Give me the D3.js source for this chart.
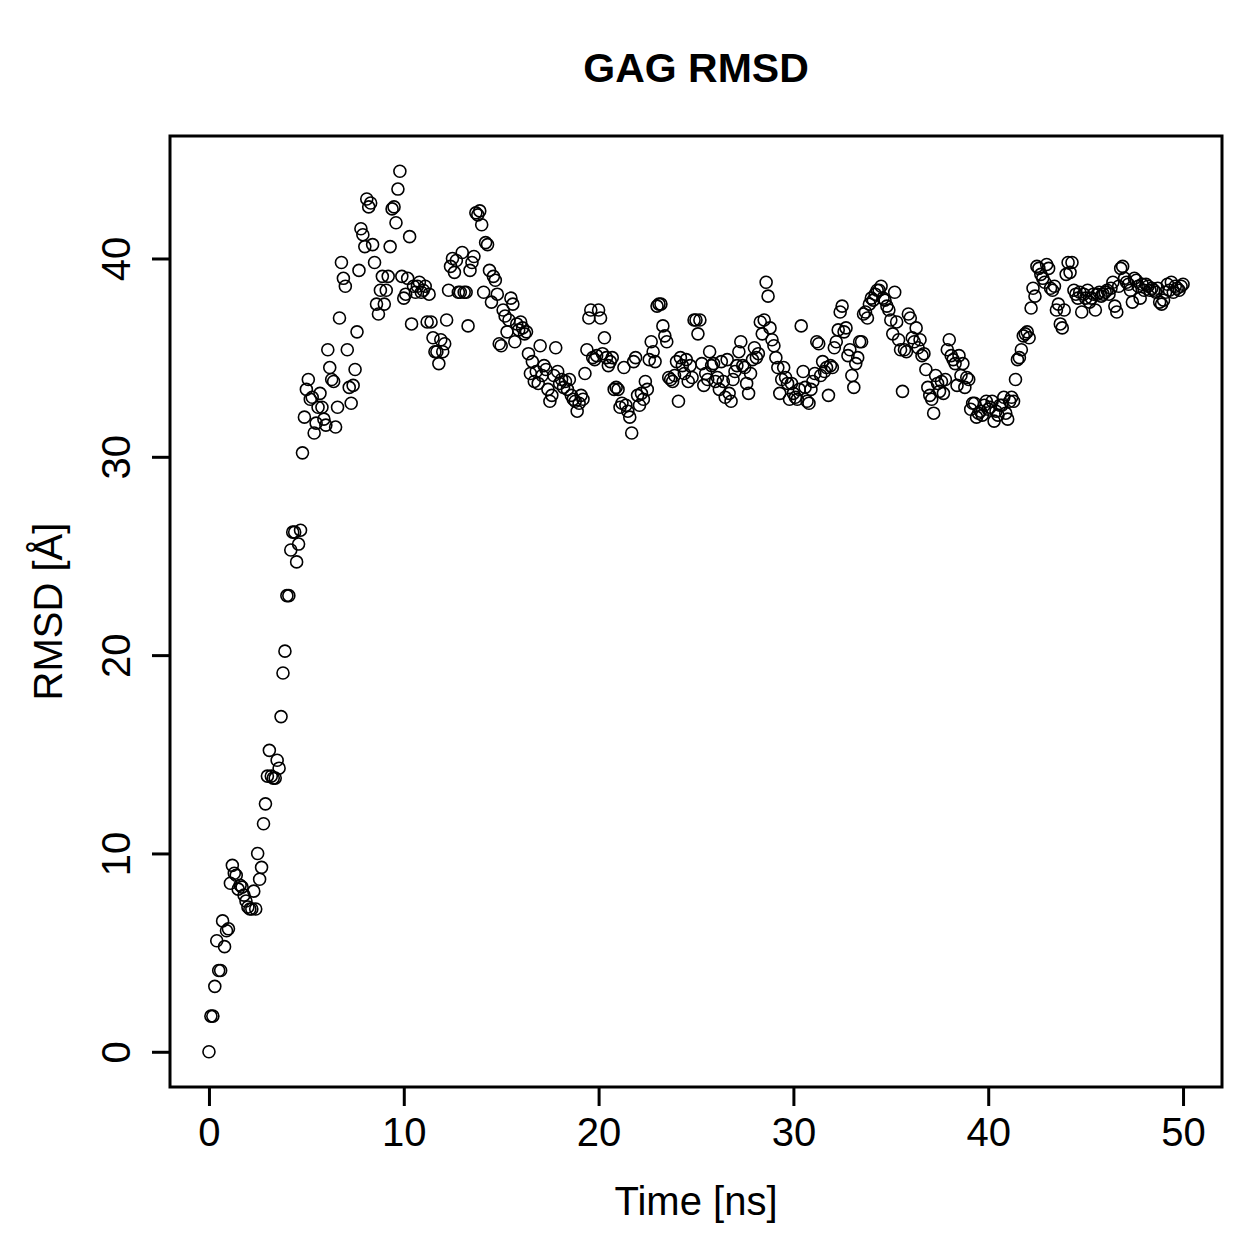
<!DOCTYPE html>
<head>
  <meta charset="utf-8">
  <script src="https://cdnjs.cloudflare.com/ajax/libs/d3/7.8.5/d3.min.js"></script>
  <style>
    body { margin:0; background:#fff; }
    #vis { width:1259px; height:1259px; }
    text { font-family:"Liberation Sans", Arial, Helvetica, sans-serif; fill:#000; }
  </style>
</head>

<body>
  <div id="vis"></div>

  <script>
    // RMSD samples, one every 0.1 ns from 0 to 50 ns
    var timeStep = 0.1;
    var rmsd = [
      0.0, 1.8, 1.8, 3.3, 5.6, 4.1, 4.1, 6.6, 5.3, 6.1,
      6.2, 8.5, 9.4, 9.0, 8.9, 8.2, 8.4, 8.3, 7.9, 7.6,
      7.3, 7.2, 7.2, 8.1, 7.2, 10.0, 8.7, 9.3, 11.5, 12.5,
      13.9, 15.2, 13.9, 13.8, 13.8, 14.7, 14.3, 16.9, 19.1, 20.2,
      23.0, 23.0, 25.3, 26.2, 26.2, 24.7, 25.6, 26.3, 30.2, 32.0,
      33.4, 33.9, 32.9, 33.0, 31.2, 31.7, 32.5, 33.2, 32.5, 31.9,
      31.6, 35.4, 34.5, 33.9, 33.8, 31.5, 32.5, 37.0, 39.8, 39.0,
      38.6, 35.4, 33.5, 32.7, 33.6, 34.4, 36.3, 39.4, 41.5, 41.2,
      40.6, 43.0, 42.6, 42.8, 40.7, 39.8, 37.7, 37.2, 38.4, 39.1,
      37.7, 38.4, 39.1, 40.6, 42.5, 42.6, 41.8, 43.5, 44.4, 39.1,
      38.0, 38.2, 39.0, 41.1, 36.7, 38.6, 38.3, 38.6, 38.8, 38.3,
      38.4, 38.6, 36.8, 38.2, 36.8, 36.0, 35.3, 35.3, 34.7, 35.9,
      35.3, 35.7, 36.9, 38.4, 39.6, 40.0, 39.3, 39.9, 38.3, 38.3,
      40.3, 38.3, 38.3, 36.6, 39.4, 39.8, 40.1, 42.3, 42.2, 42.4,
      41.7, 38.3, 40.8, 40.7, 39.4, 37.8, 39.1, 38.9, 38.2, 35.7,
      35.6, 37.4, 37.1, 36.3, 36.9, 38.0, 37.7, 35.8, 36.7, 36.4,
      36.8, 36.5, 36.2, 36.3, 35.2, 34.2, 34.8, 33.8, 34.3, 33.7,
      35.6, 34.1, 34.6, 34.4, 33.4, 32.8, 33.1, 34.1, 35.5, 34.3,
      33.7, 33.9, 33.5, 33.8, 33.4, 33.9, 33.1, 32.9, 32.8, 32.3,
      32.7, 33.1, 32.9, 34.2, 35.4, 37.0, 37.4, 35.0, 34.9, 35.1,
      37.4, 37.0, 35.2, 36.0, 35.0, 34.6, 34.8, 35.0, 33.4, 33.5,
      33.4, 32.5, 32.7, 34.5, 32.6, 32.3, 32.0, 31.2, 34.8, 35.0,
      33.1, 32.6, 33.2, 32.9, 33.8, 33.4, 34.9, 35.8, 35.3, 34.8,
      37.6, 37.7, 37.7, 36.6, 36.1, 35.8, 34.0, 33.9, 33.8, 34.1,
      34.8, 32.8, 35.0, 34.6, 34.2, 34.9, 33.8, 34.6, 34.0, 36.9,
      36.9, 36.2, 36.9, 34.7, 33.6, 34.2, 33.9, 35.3, 34.6, 34.7,
      33.8, 34.0, 33.4, 34.8, 33.8, 33.0, 34.9, 33.2, 32.8, 33.9,
      34.3, 34.6, 35.3, 35.8, 34.6, 34.5, 33.7, 33.2, 34.2, 34.9,
      35.5, 35.0, 35.2, 36.8, 36.2, 36.9, 38.8, 38.1, 36.5, 35.9,
      35.6, 35.0, 34.5, 33.2, 33.9, 34.5, 34.0, 33.7, 32.9, 33.7,
      33.2, 33.0, 32.9, 33.4, 36.6, 34.3, 33.5, 32.8, 32.7, 33.4,
      33.8, 34.2, 35.8, 35.7, 34.1, 34.8, 34.3, 34.5, 33.1, 34.6,
      34.5, 35.5, 35.8, 36.4, 37.3, 37.6, 36.3, 36.5, 35.1, 35.4,
      34.1, 33.5, 34.7, 35.0, 35.8, 35.8, 37.2, 37.3, 37.0, 37.7,
      38.0, 37.9, 38.2, 38.4, 38.4, 38.6, 38.0, 37.9, 37.6, 37.4,
      36.9, 36.2, 38.3, 36.8, 35.9, 35.4, 33.3, 35.4, 35.3, 37.2,
      37.0, 36.0, 35.8, 36.5, 35.5, 35.9, 35.1, 35.2, 34.4, 33.5,
      33.1, 32.9, 32.2, 34.1, 33.7, 33.3, 33.8, 33.2, 33.9, 35.4,
      35.9, 35.1, 34.9, 34.7, 33.6, 35.1, 34.1, 34.7, 33.5, 34.0,
      33.9, 32.4, 32.7, 32.7, 32.0, 32.2, 32.3, 32.1, 32.6, 32.8,
      32.4, 32.5, 32.8, 31.8, 32.3, 32.1, 32.6, 32.6, 33.0, 32.2,
      31.9, 32.8, 33.0, 32.8, 33.9, 34.9, 35.0, 35.4, 36.1, 36.2,
      36.3, 36.0, 37.5, 38.5, 38.1, 39.6, 39.5, 39.2, 39.0, 38.8,
      39.7, 39.5, 38.5, 38.4, 38.6, 37.4, 37.7, 36.7, 36.5, 37.4,
      39.2, 39.8, 39.3, 39.8, 38.4, 38.2, 38.0, 38.3, 37.3, 38.2,
      38.0, 38.4, 37.8, 38.0, 38.2, 37.4, 38.2, 38.3, 38.1, 38.2,
      38.3, 38.4, 38.2, 38.5, 38.8, 37.6, 37.3, 38.6, 39.5, 39.6,
      39.0, 38.8, 38.7, 38.4, 37.8, 39.0, 38.9, 38.6, 38.0, 38.7,
      38.4, 38.7, 38.6, 38.4, 38.5, 38.4, 38.3, 38.5, 37.8, 37.7,
      37.9, 38.3, 38.7, 38.4, 38.8, 38.3, 38.6, 38.5, 38.4, 38.6,
      38.7
    ];
    var xTicks = [0, 10, 20, 30, 40, 50];
    var yTicks = [0, 10, 20, 30, 40];
    var title = "GAG RMSD";
    var xLabel = "Time [ns]";
    var yLabel = "RMSD [Å]";

    var width = 1259, height = 1259;
    var box = { left: 170, right: 1222, top: 136, bottom: 1087 };

    var svg = d3.select("#vis").append("svg")
      .attr("width", width)
      .attr("height", height);

    var points = rmsd.map(function(v, i) { return { t: i * timeStep, v: v }; });

    // R style: data range padded by 4% on each side
    var tExt = d3.extent(points, function(d) { return d.t; });
    var vExt = d3.extent(points, function(d) { return d.v; });
    var tPad = (tExt[1] - tExt[0]) * 0.04, vPad = (vExt[1] - vExt[0]) * 0.04;

    var x = d3.scaleLinear()
      .domain([tExt[0] - tPad, tExt[1] + tPad])
      .range([box.left, box.right]);
    var y = d3.scaleLinear()
      .domain([vExt[0] - vPad, vExt[1] + vPad])
      .range([box.bottom, box.top]);

    // points
    svg.append("g").selectAll("circle")
      .data(points)
      .enter().append("circle")
      .attr("cx", function(d) { return x(d.t); })
      .attr("cy", function(d) { return y(d.v); })
      .attr("r", 6)
      .style("fill", "none")
      .style("stroke", "#000")
      .style("stroke-width", 1.6);

    // x axis
    var gx = svg.append("g")
      .attr("transform", "translate(0," + box.bottom + ")")
      .call(d3.axisBottom(x).tickValues(xTicks).tickSize(19).tickPadding(12).tickSizeOuter(0));
    gx.select(".domain").remove();
    gx.selectAll(".tick line").attr("stroke", "#000").attr("stroke-width", 3);
    gx.selectAll(".tick text")
      .style("font-size", "40px")
      .attr("fill", "#000");

    // y axis, labels turned like R's default las=0
    var gy = svg.append("g")
      .attr("transform", "translate(" + box.left + ",0)")
      .call(d3.axisLeft(y).tickValues(yTicks).tickSize(18).tickSizeOuter(0));
    gy.select(".domain").remove();
    gy.selectAll(".tick line").attr("stroke", "#000").attr("stroke-width", 3);
    gy.selectAll(".tick text")
      .attr("x", 0).attr("y", 0).attr("dy", 0)
      .attr("text-anchor", "middle")
      .attr("transform", "translate(-40,0) rotate(-90)")
      .style("font-size", "40px")
      .attr("fill", "#000");

    // frame
    svg.append("rect")
      .attr("x", box.left)
      .attr("y", box.top)
      .attr("width", box.right - box.left)
      .attr("height", box.bottom - box.top)
      .style("fill", "none")
      .style("stroke", "#000")
      .style("stroke-width", 3);

    var cx = (box.left + box.right) / 2;
    var cy = (box.top + box.bottom) / 2;

    svg.append("text")
      .attr("x", cx).attr("y", 82)
      .attr("text-anchor", "middle")
      .style("font-size", "41px")
      .style("font-weight", "bold")
      .text(title);

    svg.append("text")
      .attr("x", cx).attr("y", 1215)
      .attr("text-anchor", "middle")
      .style("font-size", "40px")
      .text(xLabel);

    svg.append("text")
      .attr("transform", "translate(62," + cy + ") rotate(-90)")
      .attr("text-anchor", "middle")
      .style("font-size", "40px")
      .text(yLabel);
  </script>
</body>
